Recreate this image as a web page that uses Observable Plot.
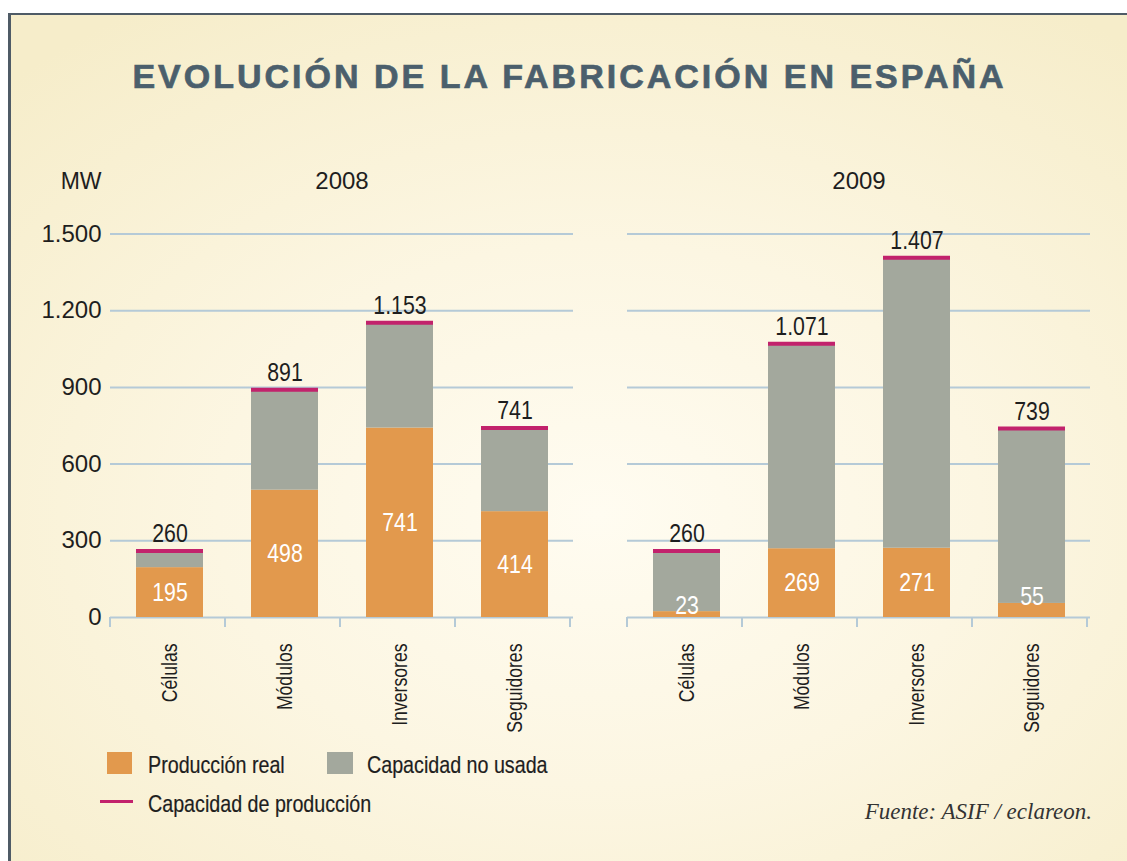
<!DOCTYPE html>
<html>
<head>
<meta charset="utf-8">
<script src="https://cdn.jsdelivr.net/npm/d3@7"></script>
<script src="https://cdn.jsdelivr.net/npm/@observablehq/plot@0.6"></script>
<style>
  html, body { margin: 0; padding: 0; background: #ffffff; }
  body { width: 1127px; height: 861px; position: relative; overflow: hidden; font-family: "Liberation Sans", Arial, sans-serif; }
  #frame { position: absolute; left: 8px; top: 13px; width: 1130px; height: 860px;
    border-left: 3px solid #4f5b66; border-top: 2px solid #4f5b66;
    background: radial-gradient(ellipse 75% 70% at 52% 58%, #fffcf1 0%, #fcf6e2 45%, #f6edca 100%); }
  #title { position: absolute; left: 6px; top: 59px; width: 1127px; text-align: center;
    font: bold 34px/34px "Liberation Sans", Arial, sans-serif; letter-spacing: 3px; color: #4b5f6c; white-space: nowrap;
    -webkit-text-stroke: 0.7px #4b5f6c; }
  #chart { position: absolute; left: 0; top: 150px; }
  .leg { position: absolute; font: 24px/24px "Liberation Sans", Arial, sans-serif; color: #1e1e1e; white-space: nowrap;
    transform: scaleX(0.82); transform-origin: 0 0; -webkit-text-stroke: 0.2px #1e1e1e; }
  .sw { position: absolute; }
  #source { position: absolute; right: 35px; top: 801px; font: italic 23px/22px "Liberation Serif", "Times New Roman", serif; color: #333; white-space: nowrap; }
</style>
</head>
<body>
<div id="frame"></div>
<div id="title">EVOLUCIÓN DE LA FABRICACIÓN EN ESPAÑA</div>
<div id="chart"></div>
<div id="legend"></div>
<div id="source">Fuente: ASIF / eclareon.</div>
<script>
// ---- data ----
const categories = ["Células", "Módulos", "Inversores", "Seguidores"];
const years = ["2008", "2009"];
const capacity2008 = [260, 891, 1153, 741];
const production2008 = [195, 498, 741, 414];
const capacity2009 = [260, 1071, 1407, 739];
const production2009 = [23, 269, 271, 55];
const yTicks = [0, 300, 600, 900, 1200, 1500];
const legendLabels = ["Producción real", "Capacidad no usada", "Capacidad de producción"];
const unitLabel = "MW";

// ---- styles ----
const cOrange = "#e2994d";
const cGray = "#a3a89d";
const cMagenta = "#c2226c";
const cGrid = "#b5cad7";
// condensed look: Liberation Sans horizontally scaled (marker family "Arial Narrow" is not installed)
const narrow = "'Liberation Sans', 'Arial Narrow', sans-serif";

const rows = [];
categories.forEach((c, i) => {
  rows.push({year: "2008", cat: c, cap: capacity2008[i], prod: production2008[i]});
  rows.push({year: "2009", cat: c, cap: capacity2009[i], prod: production2009[i]});
});

const esFormat = d3.formatLocale({decimal: ",", thousands: ".", grouping: [3], currency: ["", " €"]}).format(",d");

function baseTicks(index, scales) {
  const {x, y} = scales;
  const g = d3.create("svg:g");
  const r0 = x.range()[0];
  const step = x.step();
  const y0 = y(0);
  for (let i = 0; i <= categories.length; i++) {
    const px = r0 + i * step;
    g.append("line").attr("x1", px).attr("x2", px).attr("y1", y0).attr("y2", y0 + 10)
      .attr("stroke", cGrid).attr("stroke-width", 2);
  }
  return g.node();
}

const chart = Plot.plot({
  width: 1127,
  height: 600,
  marginTop: 83.5,
  marginBottom: 133,
  marginLeft: 110,
  marginRight: 36,
  style: {background: "transparent", fontFamily: "'Liberation Sans', Arial, sans-serif", color: "#1e1e1e", overflow: "visible"},
  fx: {domain: years, paddingInner: 0.104, paddingOuter: 0, axis: null},
  x: {domain: categories, paddingInner: 0.42, paddingOuter: 0.21, axis: null},
  y: {domain: [0, 1500], axis: null},
  marks: [
    Plot.gridY({ticks: yTicks, stroke: cGrid, strokeOpacity: 1, strokeWidth: 2}),
    baseTicks,
    Plot.axisY({ticks: yTicks, tickFormat: esFormat, tickSize: 0, tickPadding: 9, fontSize: 24, label: null}),
    Plot.barY(rows, {fx: "year", x: "cat", y1: 0, y2: "prod", fill: cOrange}),
    Plot.barY(rows, {fx: "year", x: "cat", y1: "prod", y2: "cap", fill: cGray}),
    Plot.tickY(rows, {fx: "year", x: "cat", y: "cap", stroke: cMagenta, strokeWidth: 4}),
    Plot.text(rows, {fx: "year", x: "cat", y: "cap", text: d => esFormat(d.cap), lineAnchor: "bottom", dy: -9,
      fontSize: 26, fontFamily: narrow, fill: "#1e1e1e"}),
    Plot.text(rows.filter(d => d.prod >= 100), {fx: "year", x: "cat", y: d => d.prod / 2, text: d => esFormat(d.prod),
      lineAnchor: "middle", fontSize: 26, fontFamily: narrow, fill: "#ffffff"}),
    Plot.text(rows.filter(d => d.prod < 100), {fx: "year", x: "cat", y: "prod", text: d => esFormat(d.prod),
      lineAnchor: "bottom", dy: 2, fontSize: 26, fontFamily: narrow, fill: "#ffffff"}),
    Plot.text(rows, {fx: "year", x: "cat", text: "cat", frameAnchor: "bottom", rotate: -90, textAnchor: "end",
      lineAnchor: "middle", dy: 26, fontSize: 21.5, fontFamily: narrow, fill: "#1e1e1e"}),
    Plot.text(years, {fx: d => d, text: d => d, frameAnchor: "top", lineAnchor: "bottom", dy: -45, fontSize: 24, fill: "#1e1e1e"}),
    Plot.text([unitLabel], {fx: () => years[0], text: d => d, frameAnchor: "top-left", textAnchor: "end",
      lineAnchor: "bottom", dx: -9, dy: -45, fontSize: 23, fill: "#1e1e1e"})
  ]
});
// apply the condensed (narrow) look to the marked text marks
d3.select(chart).selectAll('g[font-family*="Arial Narrow"] text').each(function() {
  const t = this.getAttribute("transform") || "";
  this.setAttribute("transform", t + " scale(0.82,1)");
});
document.getElementById("chart").appendChild(chart);

// ---- legend ----
const legend = document.getElementById("legend");
function add(html) { legend.insertAdjacentHTML("beforeend", html); }
add(`<div class="sw" style="left:107px;top:752px;width:25px;height:22px;background:${cOrange}"></div>`);
add(`<div class="leg" style="left:148px;top:753px">${legendLabels[0]}</div>`);
add(`<div class="sw" style="left:327px;top:752px;width:26px;height:22px;background:${cGray}"></div>`);
add(`<div class="leg" style="left:367px;top:753px">${legendLabels[1]}</div>`);
add(`<div class="sw" style="left:100px;top:800px;width:33px;height:3px;background:${cMagenta}"></div>`);
add(`<div class="leg" style="left:148px;top:792px">${legendLabels[2]}</div>`);
</script>
</body>
</html>
